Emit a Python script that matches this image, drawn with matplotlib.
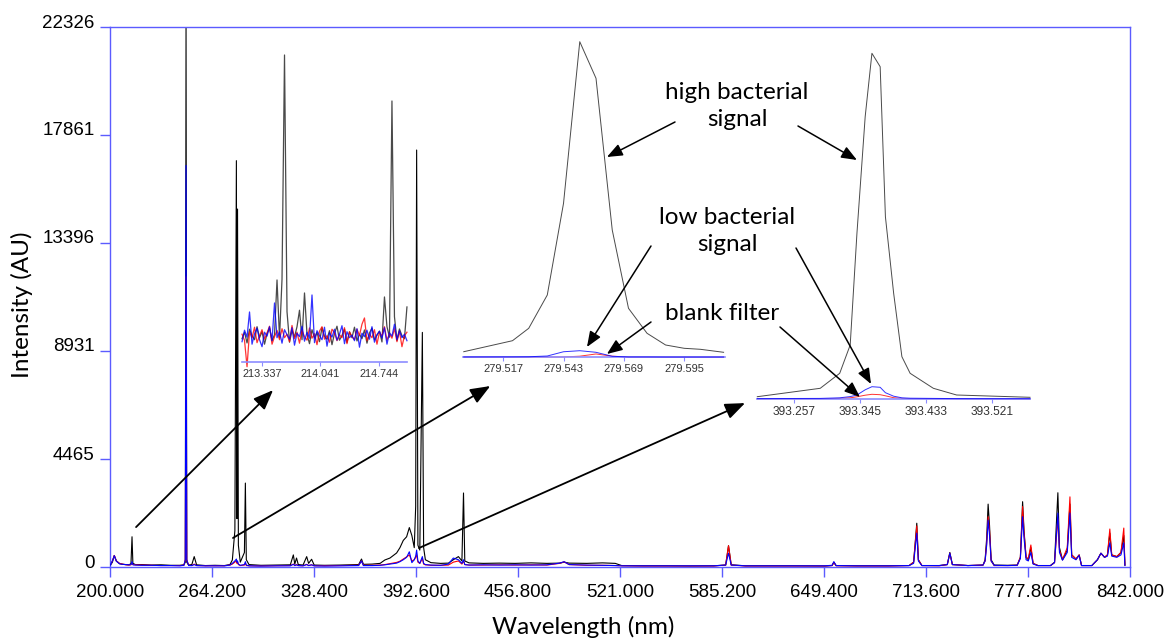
import numpy as np
import matplotlib
matplotlib.use("Agg")
import matplotlib.pyplot as plt
from matplotlib.transforms import ScaledTranslation

# ---- main spectrum: wavelength grid and three traces ----
wl = [200.0, 201.5, 202.7, 204.0, 206.0, 208.0, 210.0, 212.0, 213.2, 213.86,
      214.4, 216.0, 220.0, 226.0, 232.0, 238.0, 244.0, 246.5, 247.4, 247.86,
      248.3, 249.5, 251.5, 253.0, 254.5, 260.0, 266.0, 272.0, 275.5, 277.0,
      278.6, 279.55, 279.9, 280.27, 280.8, 282.0, 284.6, 285.2, 285.8, 287.5,
      295.0, 305.0, 313.5, 315.4, 316.3, 317.4, 318.5, 321.5, 323.8, 325.0,
      326.9, 328.5, 335.0, 345.0, 356.5, 358.3, 359.5, 365.0, 370.0, 373.0,
      376.2, 380.4, 382.5, 384.6, 386.7, 388.4, 390.0, 391.5, 392.4, 393.0,
      393.8, 395.0, 396.6, 397.4, 398.5, 402.0, 408.0, 413.0, 416.1, 419.3,
      421.5, 422.5, 423.3, 426.0, 435.0, 445.0, 455.0, 465.0, 475.0, 483.0,
      485.8, 489.0, 500.0, 510.0, 518.0, 522.0, 535.0, 550.0, 565.0, 580.0,
      587.5, 589.3, 591.0, 600.0, 615.0, 630.0, 650.0, 654.5, 655.6, 657.0,
      670.0, 690.0, 703.0, 705.8, 707.0, 707.8, 708.8, 711.0, 722.0, 727.0,
      728.6, 730.2, 740.0, 749.5, 750.8, 751.8, 752.7, 753.6, 754.6, 756.5,
      765.0, 771.0, 773.0, 774.4, 775.3, 776.6, 778.0, 779.6, 781.0, 784.0,
      792.0, 794.5, 796.6, 797.6, 799.5, 802.5, 804.2, 805.3, 808.0, 810.0,
      811.5, 818.0, 821.5, 823.7, 826.0, 827.8, 829.3, 830.5, 833.7, 836.3,
      838.1, 838.8]

high_signal = [40, 200, 470, 250, 140, 110, 100, 90, 140, 1250,
               150, 100, 100, 80, 90, 70, 70, 90, 200, 22326,
               200, 80, 100, 430, 90, 60, 70, 60, 100, 290,
               1500, 16800, 2000, 14800, 900, 200, 600, 3470, 300, 100,
               70, 80, 90, 500, 120, 370, 100, 80, 430, 150,
               320, 80, 70, 80, 100, 330, 110, 120, 150, 290,
               370, 580, 800, 1100, 1250, 1630, 1300, 800, 2500, 17240,
               900, 700, 9700, 800, 300, 180, 150, 160, 300, 430,
               250, 3060, 250, 170, 150, 160, 150, 170, 150, 160,
               200, 160, 150, 170, 150, 60, 50, 50, 40, 50,
               80, 880, 90, 50, 50, 50, 40, 60, 200, 60,
               50, 50, 60, 200, 1200, 1810, 300, 60, 60, 100,
               600, 100, 60, 80, 300, 1200, 2600, 1700, 300, 80,
               70, 80, 400, 2700, 1500, 400, 300, 800, 150, 60,
               60, 200, 3070, 800, 300, 700, 2600, 500, 330, 500,
               60, 60, 300, 570, 400, 500, 1400, 500, 430, 600,
               1300, 80]

blank_filter = [60, 250, 480, 250, 150, 120, 90, 80, 90, 150,
                100, 90, 80, 70, 60, 60, 60, 70, 300, 12000,
                300, 70, 60, 120, 60, 50, 50, 50, 80, 120,
                200, 250, 150, 200, 100, 60, 80, 150, 60, 50,
                40, 50, 60, 120, 60, 100, 60, 50, 110, 60,
                90, 50, 50, 60, 70, 250, 70, 70, 80, 100,
                140, 190, 240, 330, 420, 500, 250, 300, 400, 500,
                200, 150, 350, 120, 90, 70, 70, 80, 200, 250,
                120, 250, 100, 80, 80, 90, 80, 90, 80, 150,
                210, 100, 70, 70, 60, 50, 40, 40, 40, 40,
                80, 880, 80, 40, 40, 40, 40, 60, 180, 50,
                40, 40, 60, 200, 1100, 1700, 300, 60, 50, 100,
                570, 100, 60, 80, 250, 1000, 2080, 1500, 250, 60,
                60, 70, 400, 2500, 1400, 400, 350, 910, 150, 60,
                60, 180, 2000, 700, 300, 800, 2900, 500, 330, 500,
                60, 60, 300, 570, 400, 500, 1570, 500, 430, 600,
                1610, 80]

low_signal = [60, 250, 470, 240, 130, 110, 100, 90, 100, 220,
              90, 80, 70, 70, 60, 60, 50, 70, 300, 16600,
              300, 60, 60, 100, 60, 50, 50, 50, 80, 150,
              250, 330, 200, 250, 120, 70, 100, 220, 80, 50,
              40, 50, 50, 110, 60, 90, 60, 50, 100, 60,
              90, 50, 40, 50, 60, 250, 60, 60, 70, 90,
              120, 160, 220, 300, 400, 630, 180, 300, 450, 700,
              250, 150, 430, 150, 100, 80, 70, 120, 370, 300,
              150, 300, 100, 80, 90, 80, 90, 80, 90, 160,
              220, 100, 80, 70, 60, 50, 50, 50, 50, 50,
              80, 570, 80, 50, 50, 50, 50, 70, 220, 60,
              50, 50, 60, 150, 900, 1400, 250, 60, 60, 100,
              570, 100, 60, 80, 250, 900, 1940, 1300, 250, 70,
              60, 70, 350, 2080, 1200, 300, 250, 600, 120, 60,
              60, 180, 2230, 600, 280, 600, 2230, 400, 300, 480,
              60, 60, 300, 570, 400, 450, 1000, 450, 400, 500,
              1000, 60]

x_ticks = [200.0, 264.2, 328.4, 392.6, 456.8, 521.0, 585.2, 649.4, 713.6, 777.8, 842.0]
y_ticks = [0, 4465, 8931, 13396, 17861, 22326]

# ---- inset 1: Zn 213.86 nm region (noisy) ----
zn_wl = np.linspace(213.10, 215.08, 67)
zn_high = [92, 118, 75, 130, 104, 88, 140, 96, 120, 70,
           112, 135, 84, 108, 327, 95, 330, 1227, 200, 78,
           125, 99, 140, 206, 88, 275, 110, 72, 128, 95,
           117, 80, 136, 101, 90, 124, 68, 113, 142, 86,
           105, 130, 77, 119, 96, 138, 83, 110, 92, 127,
           74, 115, 134, 88, 106, 122, 79, 259, 140, 98,
           1043, 180, 85, 131, 104, 92, 219]
zn_blank = [110, 85, -20, 120, 95, 138, 76, 104, 128, 90,
            115, 142, 70, 100, 125, 88, 132, 96, 110, 80,
            145, 92, 118, 74, 126, 100, 86, 135, 94, 112,
            68, 122, 140, 90, 104, 78, 130, 116, 84, 108,
            96, 136, 72, 120, 100, 88, 130, 105, 150, 175,
            84, 110, 96, 128, 70, 118, 102, 140, 86, 112,
            94, 132, 80, 122, 60, 104, 118]
zn_low = [80, 126, 98, 199, 70, 112, 134, 88, 60, 118,
          102, 140, 84, 235, 96, 120, 74, 128, 108, 90,
          136, 66, 114, 100, 142, 82, 118, 94, 267, 76,
          124, 104, 88, 138, 62, 116, 98, 130, 86, 110,
          144, 72, 120, 96, 106, 84, 132, 58, 114, 100,
          126, 90, 140, 78, 108, 122, 94, 136, 70, 116,
          102, 150, 88, 124, 96, 110, 84]
zn_ticks = [213.337, 214.041, 214.744]

# ---- inset 2: Mg 279.55 nm ----
mg_wl = [279.500, 279.521, 279.528, 279.536, 279.543, 279.550, 279.557,
         279.564, 279.571, 279.579, 279.587, 279.595, 279.602, 279.612]
mg_high = [302, 896, 1566, 3364, 8316, 17042, 15066, 6874, 2646, 1296, 664, 486, 432, 270]
mg_low = [20, 25, 30, 70, 300, 356, 270, 54, 20, 20, 15, 15, 15, 15]
mg_blank = [10, 10, 10, 15, 20, 60, 180, 60, 15, 10, 10, 10, 10, 10]
mg_ticks = [279.517, 279.543, 279.569, 279.595]

# ---- inset 3: Ca 393.37 nm ----
ca_wl = [393.208, 393.292, 393.318, 393.332, 393.341, 393.352, 393.361, 393.372,
         393.379, 393.390, 393.401, 393.412, 393.443, 393.474, 393.572]
ca_high = [115, 535, 1285, 2700, 8285, 14115, 17285, 16615, 9115, 5285, 2115, 1285, 535, 200, 85]
ca_low = [20, 30, 60, 120, 200, 460, 615, 585, 315, 140, 60, 40, 30, 20, 15]
ca_blank = [10, 15, 30, 60, 110, 190, 235, 215, 160, 65, 30, 20, 15, 10, 8]
ca_ticks = [393.257, 393.345, 393.433, 393.521]

W, H = 1167, 639
SPINE = "#5b5bff"
LABEL_FONT = ["Lato", "DejaVu Sans"]
TICK_FONT = ["Liberation Sans", "DejaVu Sans"]
LABEL_SIZE = 17.5


def box(left, right, top, bottom):
    """pixel box (from top-left) -> figure fraction rect"""
    return [left / W, 1 - bottom / H, (right - left) / W, (bottom - top) / H]


def fp(px, py):
    return (px / W, 1 - py / H)


fig = plt.figure(figsize=(W / 100, H / 100), dpi=100)

ax = fig.add_axes(box(110, 1130, 27, 567))
ax.plot(wl, high_signal, color="black", lw=0.8, zorder=1)
ax.plot(wl, blank_filter, color="red", lw=0.8, zorder=2)
ax.plot(wl, low_signal, color="blue", lw=0.8, zorder=3)
ax.set_xlim(200, 842)
ax.set_ylim(0, 22326)
ax.set_xticks(x_ticks)
ax.set_xticklabels([f"{v:.3f}" for v in x_ticks])
ax.set_yticks(y_ticks)
ax.set_yticklabels([str(v) for v in y_ticks])
for s in ax.spines.values():
    s.set_color(SPINE)
    s.set_linewidth(1.0)
ax.tick_params(axis="both", colors=SPINE, labelcolor="black", length=7, width=1.0,
               labelsize=13.5)
ax.tick_params(axis="x", pad=5)
ax.tick_params(axis="y", pad=4)
lift = ScaledTranslation(0, 6 / 100, fig.dpi_scale_trans)
for lab in ax.get_yticklabels():
    lab.set_family(TICK_FONT)
    lab.set_transform(lab.get_transform() + lift)
for lab in ax.get_xticklabels():
    lab.set_family(TICK_FONT)

fig.text(*fp(583, 627), "Wavelength (nm)", ha="center", va="center",
         fontsize=LABEL_SIZE, family=LABEL_FONT)
fig.text(*fp(22, 305), "Intensity (AU)", ha="center", va="center",
         rotation=90, fontsize=LABEL_SIZE, family=LABEL_FONT)


def make_inset(rect, x, high, low, blank, xlim, ymax, ticks, fsize, lw):
    ins = fig.add_axes(rect)
    ins.patch.set_alpha(0)
    ins.plot(x, high, color="#4a4a4a", lw=lw, clip_on=False, zorder=1)
    ins.plot(x, blank, color="red", lw=lw, alpha=0.8, clip_on=False, zorder=2)
    ins.plot(x, low, color="blue", lw=lw, alpha=0.8, clip_on=False, zorder=3)
    ins.set_xlim(*xlim)
    ins.set_ylim(0, ymax)
    for side in ("left", "right", "top"):
        ins.spines[side].set_visible(False)
    ins.spines["bottom"].set_color("#8c8cff")
    ins.spines["bottom"].set_linewidth(1.2)
    ins.set_yticks([])
    ins.set_xticks(ticks)
    ins.set_xticklabels([f"{t:.3f}" for t in ticks])
    ins.tick_params(axis="x", colors="#8c8cff", labelcolor="#333333", length=3,
                    width=0.8, labelsize=fsize, pad=2)
    for lab in ins.get_xticklabels():
        lab.set_family(TICK_FONT)
    return ins


ins_zn = make_inset(box(241.7, 406.7, 27, 361.7), zn_wl, zn_high, zn_low, zn_blank,
                    (213.096, 215.077), 1339, zn_ticks, 7.8, 0.9)
ins_mg = make_inset(box(463.3, 725, 27, 357.3), mg_wl, mg_high, mg_low, mg_blank,
                    (279.4998, 279.6126), 17836, mg_ticks, 8.0, 0.7)
ins_ca = make_inset(box(757.3, 1030, 27, 399), ca_wl, ca_high, ca_low, ca_blank,
                    (393.208, 393.572), 18600, ca_ticks, 8.6, 0.7)

# arrows from the full spectrum to the zoomed insets
big = dict(arrowstyle="-|>,head_length=0.55,head_width=0.22", mutation_scale=22,
           lw=1.3, color="black", shrinkA=0, shrinkB=0)
ax.annotate("", xy=(0.19, -0.085), xycoords=ins_zn.transAxes,
            xytext=(216.4, 1650), textcoords="data", arrowprops=big, zorder=10)
ax.annotate("", xy=(0.103, -0.087), xycoords=ins_mg.transAxes,
            xytext=(277.4, 1200), textcoords="data", arrowprops=big, zorder=10)
ax.annotate("", xy=(-0.045, -0.011), xycoords=ins_ca.transAxes,
            xytext=(394.5, 785), textcoords="data", arrowprops=big, zorder=10)

# labelled arrows
small = dict(arrowstyle="-|>,head_length=0.55,head_width=0.22", mutation_scale=17,
             lw=1.1, color="black", shrinkA=0, shrinkB=0)

fig.text(*fp(737, 106), "high bacterial\nsignal", ha="center", va="center",
         fontsize=LABEL_SIZE, family=LABEL_FONT, linespacing=1.3)
fig.text(*fp(727, 231), "low bacterial\nsignal", ha="center", va="center",
         fontsize=LABEL_SIZE, family=LABEL_FONT, linespacing=1.3)
fig.text(*fp(722, 314), "blank filter", ha="center", va="center",
         fontsize=LABEL_SIZE, family=LABEL_FONT)

ins_mg.annotate("", xy=(279.5617, 10816), xytext=fp(675, 122),
                textcoords="figure fraction", arrowprops=small)
ins_ca.annotate("", xy=(393.341, 11950), xytext=fp(798, 126),
                textcoords="figure fraction", arrowprops=small)
ins_mg.annotate("", xy=(279.5531, 556), xytext=fp(651, 246),
                textcoords="figure fraction", arrowprops=small)
ins_ca.annotate("", xy=(393.3598, 750), xytext=fp(796, 248),
                textcoords="figure fraction", arrowprops=small)
ins_mg.annotate("", xy=(279.5617, 178), xytext=fp(651, 322),
                textcoords="figure fraction", arrowprops=small)
ins_ca.annotate("", xy=(393.345, 100), xytext=fp(780, 327),
                textcoords="figure fraction", arrowprops=small)

fig.savefig("out.png", dpi=100)
